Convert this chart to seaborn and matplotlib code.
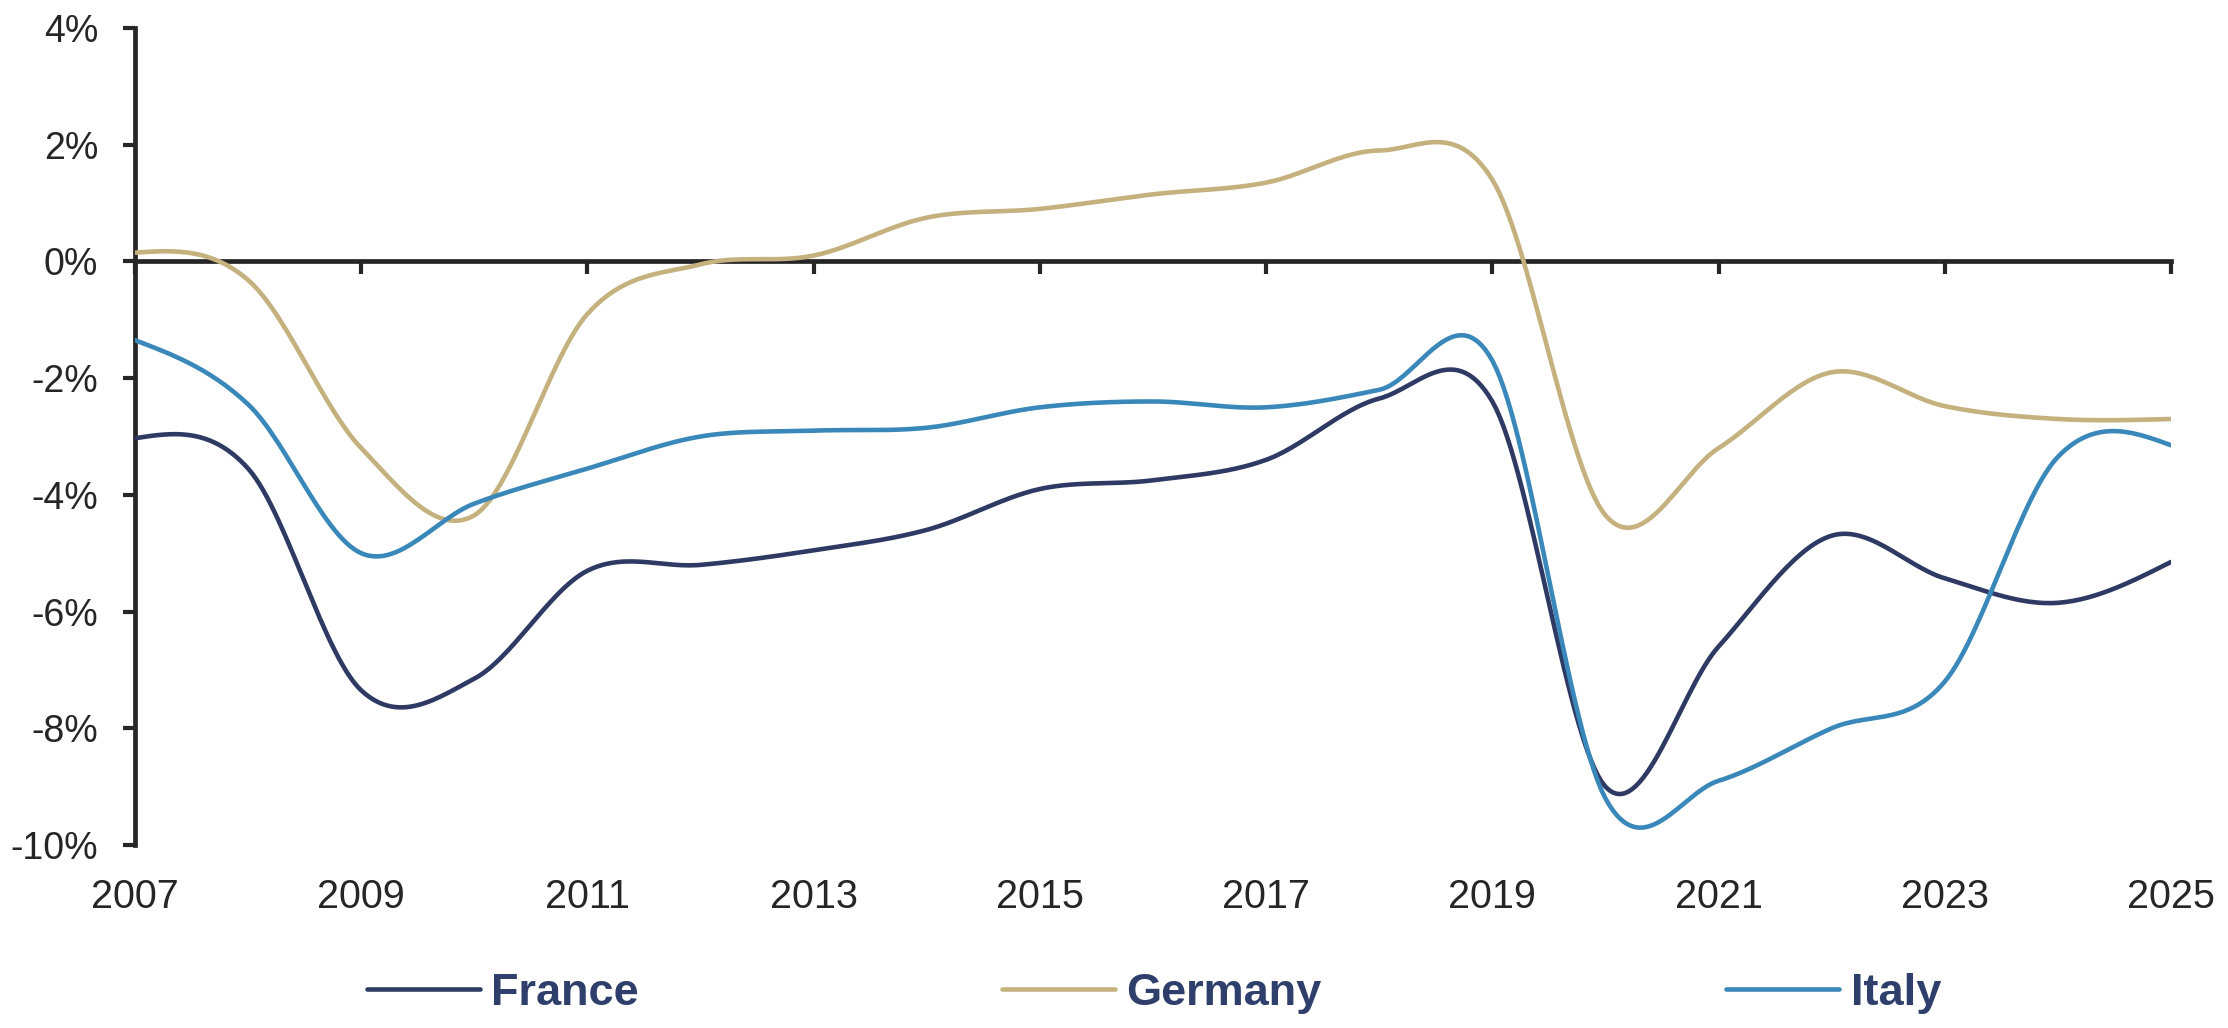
import numpy as np
import pandas as pd
import seaborn as sns
import matplotlib
matplotlib.use('Agg')
from matplotlib import pyplot as plt
from matplotlib.lines import Line2D

# annual values, %
years = list(range(2007, 2026))
france = [-3.03, -3.55, -7.35, -7.15, -5.3, -5.2, -4.95, -4.6, -3.9, -3.75, -3.4,
          -2.35, -2.4, -9.0, -6.6, -4.7, -5.43, -5.85, -5.15]
germany = [0.15, -0.32, -3.2, -4.35, -0.9, -0.05, 0.1, 0.75, 0.9, 1.15, 1.35,
           1.9, 1.4, -4.35, -3.2, -1.9, -2.48, -2.7, -2.7]
italy = [-1.35, -2.45, -5.0, -4.15, -3.55, -3.0, -2.9, -2.85, -2.5, -2.4, -2.5,
         -2.2, -1.7, -9.2, -8.9, -8.0, -7.2, -3.35, -3.15]

countries = ['France', 'Germany', 'Italy']
colors = {'France': '#2E3A64', 'Germany': '#C4B17E', 'Italy': '#3A88BA'}
text_color = '#2E3F6B'
legend_x = [0.1646, 0.4496, 0.7749]


def smooth_curve(xs, ys, steps=30):
    # Excel-like smoothed line: cubic bezier per segment,
    # catmull-rom tangents inside, natural-end tangents at both ends
    x = np.asarray(xs, float)
    y = np.asarray(ys, float)
    n = len(y)
    m = np.zeros(n)
    m[1:-1] = (y[2:] - y[:-2]) / 2
    m[0] = (3 * (y[1] - y[0]) - m[1]) / 2
    m[-1] = (3 * (y[-1] - y[-2]) - m[-2]) / 2
    t = np.linspace(0, 1, steps, endpoint=False)
    ox, oy = [], []
    for i in range(n - 1):
        h = x[i + 1] - x[i]
        c1 = y[i] + m[i] / 3
        c2 = y[i + 1] - m[i + 1] / 3
        oy.append((1 - t) ** 3 * y[i] + 3 * (1 - t) ** 2 * t * c1
                  + 3 * (1 - t) * t ** 2 * c2 + t ** 3 * y[i + 1])
        ox.append(x[i] + t * h)
    ox.append(x[-1:])
    oy.append(y[-1:])
    return np.concatenate(ox), np.concatenate(oy)


frames = []
for name, vals in zip(countries, [france, germany, italy]):
    sx, sy = smooth_curve(years, vals)
    frames.append(pd.DataFrame({'year': sx, 'value': sy, 'country': name}))
df = pd.concat(frames, ignore_index=True)

sns.set_style('ticks')
plt.rcParams['font.family'] = ['Liberation Sans', 'DejaVu Sans']

fig, ax = plt.subplots(figsize=(22.28, 10.28), dpi=100)
fig.subplots_adjust(left=0.0606, right=0.9744, top=0.9728, bottom=0.178)

sns.lineplot(data=df, x='year', y='value', hue='country', palette=colors,
             linewidth=3.3, sort=False, estimator=None, legend=False, ax=ax, zorder=3)

ax.set_xlim(2007, 2025)
ax.set_ylim(-10, 4)
ax.set_xlabel('')
ax.set_ylabel('')

for s in ['top', 'right']:
    ax.spines[s].set_visible(False)
ax.spines['bottom'].set_position(('data', 0))
ax.spines['bottom'].set_linewidth(3.4)
ax.spines['left'].set_linewidth(3.4)
ax.spines['bottom'].set_zorder(2)

ax.set_xticks(range(2007, 2026, 2))
ax.tick_params(axis='x', direction='out', length=9, width=3.0, labelbottom=False)
ax.set_yticks(range(-10, 5, 2))
ax.yaxis.set_major_formatter(lambda v, p: f'{v:.0f}%')
ax.tick_params(axis='y', direction='out', length=8.5, width=3.0, pad=18, labelsize=27)

sec = ax.secondary_xaxis('bottom')
sec.set_xticks(range(2007, 2026, 2))
sec.tick_params(length=0, pad=24, labelsize=28.5)
sec.spines['bottom'].set_visible(False)

for name, lx in zip(countries, legend_x):
    h = Line2D([0], [0], color=colors[name], lw=3.3)
    leg = fig.legend([h], [name], loc='center left', bbox_to_anchor=(lx, 0.034),
                     frameon=False, prop={'weight': 'bold', 'size': 32.5},
                     handlelength=2.5, handletextpad=0.25, borderpad=0, borderaxespad=0)
    for t in leg.get_texts():
        t.set_color(text_color)

fig.savefig('out.png', dpi=100)
